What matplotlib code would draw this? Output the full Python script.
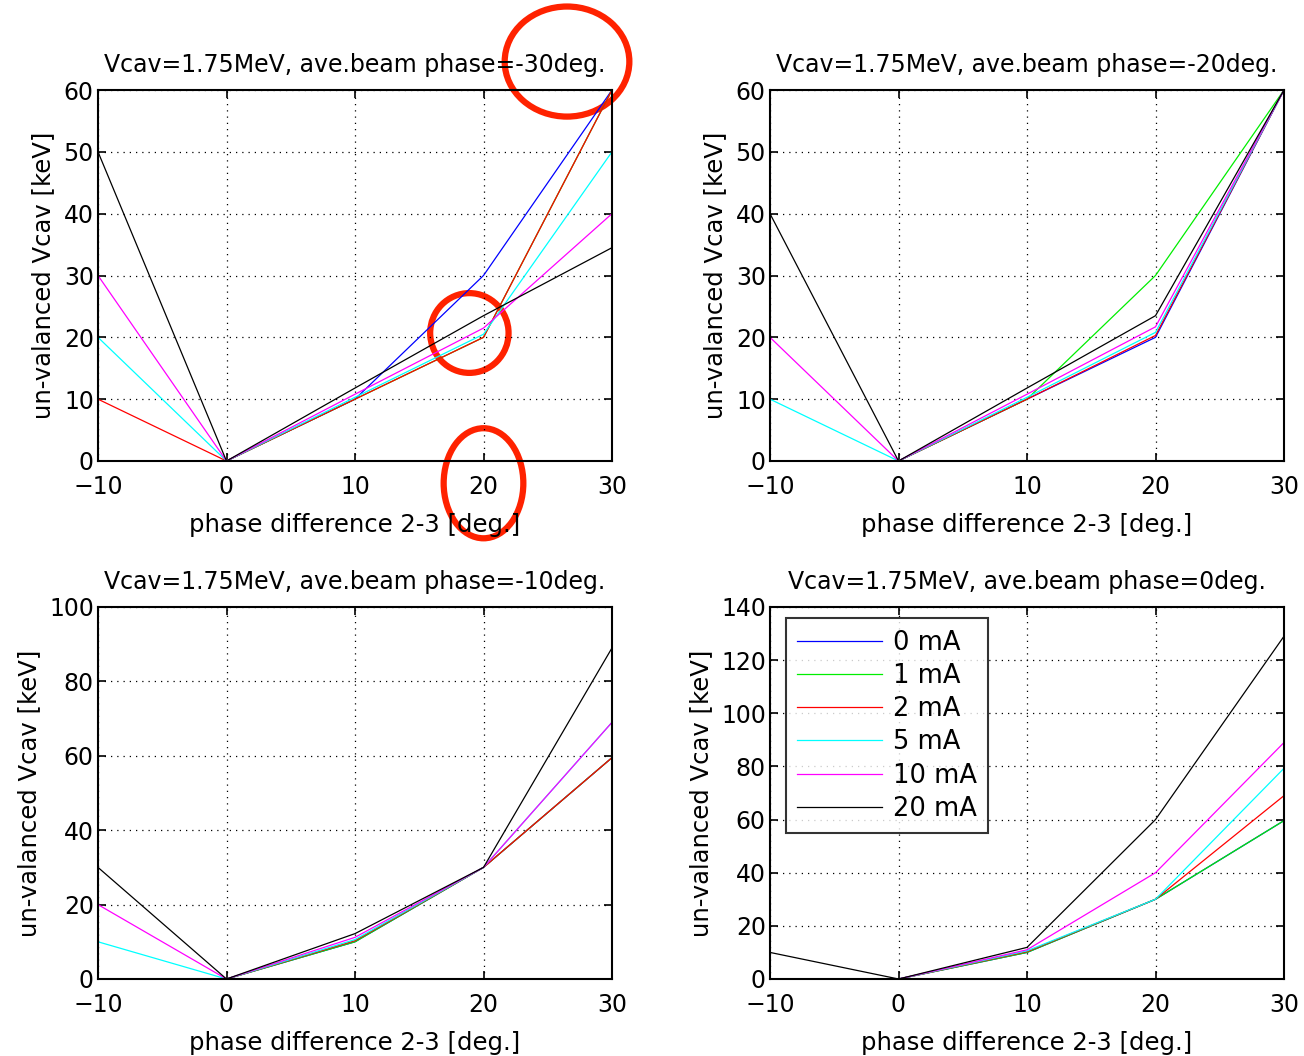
import matplotlib
matplotlib.use("Agg")
import matplotlib.pyplot as plt
from matplotlib.patches import Ellipse

plt.rcParams['font.family'] = ['DejaVu Sans']

phase_diff = [-10, 0, 10, 20, 30]
currents = ["0 mA", "1 mA", "2 mA", "5 mA", "10 mA", "20 mA"]
colors = ["#0000ff", "#00ee00", "#ff0000", "#00ffff", "#ff00ff", "#000000"]

# un-valanced Vcav [keV], one list per beam current, for each ave. beam phase
vcav_m30 = [
    [0, 0, 10, 30, 60],
    [0, 0, 10, 20, 60],
    [10, 0, 10, 20, 60],
    [20, 0, 10.3, 20.5, 50],
    [30, 0, 10.8, 21.5, 40],
    [50, 0, 11.8, 23.5, 34.5],
]
vcav_m20 = [
    [0, 0, 10, 20, 60],
    [0, 0, 10, 30, 60],
    [0, 0, 10, 20.3, 60],
    [10, 0, 10.3, 20.8, 60],
    [20, 0, 10.8, 21.7, 60],
    [40, 0, 11.8, 23.5, 60],
]
vcav_m10 = [
    [0, 0, 10, 30, 59.5],
    [0, 0, 10, 30, 59.5],
    [0, 0, 10.3, 30, 59.5],
    [10, 0, 10.6, 30, 69],
    [20, 0, 11.2, 30, 69],
    [30, 0, 12.2, 30, 89],
]
vcav_0 = [
    [0, 0, 10, 30, 59.6],
    [0, 0, 10, 30, 59.6],
    [0, 0, 10.3, 30, 69],
    [0, 0, 10.6, 30, 79.3],
    [0, 0, 11, 40, 89],
    [10, 0, 11.9, 60, 129],
]

beam_phases = ["-30", "-20", "-10", "0"]
datasets = [vcav_m30, vcav_m20, vcav_m10, vcav_0]
ylims = [60, 60, 100, 140]
ysteps = [10, 10, 20, 20]

W, H = 1304, 1056
fig = plt.figure(figsize=(W / 100, H / 100), dpi=100)
boxes = [
    (98, 90, 612, 461),
    (770, 90, 1284, 461),
    (98, 607, 612, 979),
    (770, 607, 1284, 979),
]

axes = []
for i in range(4):
    x0, y0, x1, y1 = boxes[i]
    ax = fig.add_axes([x0 / W, 1 - y1 / H, (x1 - x0) / W, (y1 - y0) / H])
    for vals, c, lab in zip(datasets[i], colors, currents):
        ax.plot(phase_diff, vals, color=c, lw=0.9, label=lab)
    ax.set_xlim(-10, 30)
    ax.set_ylim(0, ylims[i])
    ax.set_xticks(phase_diff)
    ax.set_yticks(range(0, ylims[i] + 1, ysteps[i]))
    ax.grid(True, color="black", linestyle=(0, (1, 4)), lw=0.9)
    ax.tick_params(direction="in", length=6, width=1.2, top=True, right=True,
                   labelsize=17)
    ax.tick_params(axis="x", pad=10)
    ax.tick_params(axis="y", pad=3)
    for s in ax.spines.values():
        s.set_linewidth(1.5)
    ax.set_title("Vcav=1.75MeV, ave.beam phase=" + beam_phases[i] + "deg.",
                 fontsize=17, pad=13)
    ax.set_xlabel("phase difference 2-3 [deg.]", fontsize=17.5, labelpad=10)
    ax.set_ylabel("un-valanced Vcav [keV]", fontsize=17.5, labelpad=6)
    axes.append(ax)

leg = axes[3].legend(loc="upper left", fontsize=18.5, frameon=True, fancybox=False,
                     handlelength=3.3, borderpad=0.45, labelspacing=0.28,
                     handletextpad=0.4, borderaxespad=0,
                     bbox_to_anchor=(0.031, 0.97))
leg.get_frame().set_edgecolor("black")
leg.get_frame().set_linewidth(1.5)

# red annotation circles on the first panel
marks = [(26.5, 64.6, 9.7, 17.8), (18.9, 20.7, 6.1, 12.9), (20.0, -3.6, 6.2, 17.8)]
for cx, cy, w, h in marks:
    e = Ellipse((cx, cy), w, h, fill=False, edgecolor="#ff2200", lw=4.5, clip_on=False)
    axes[0].add_patch(e)

fig.savefig("out.png", dpi=100)
